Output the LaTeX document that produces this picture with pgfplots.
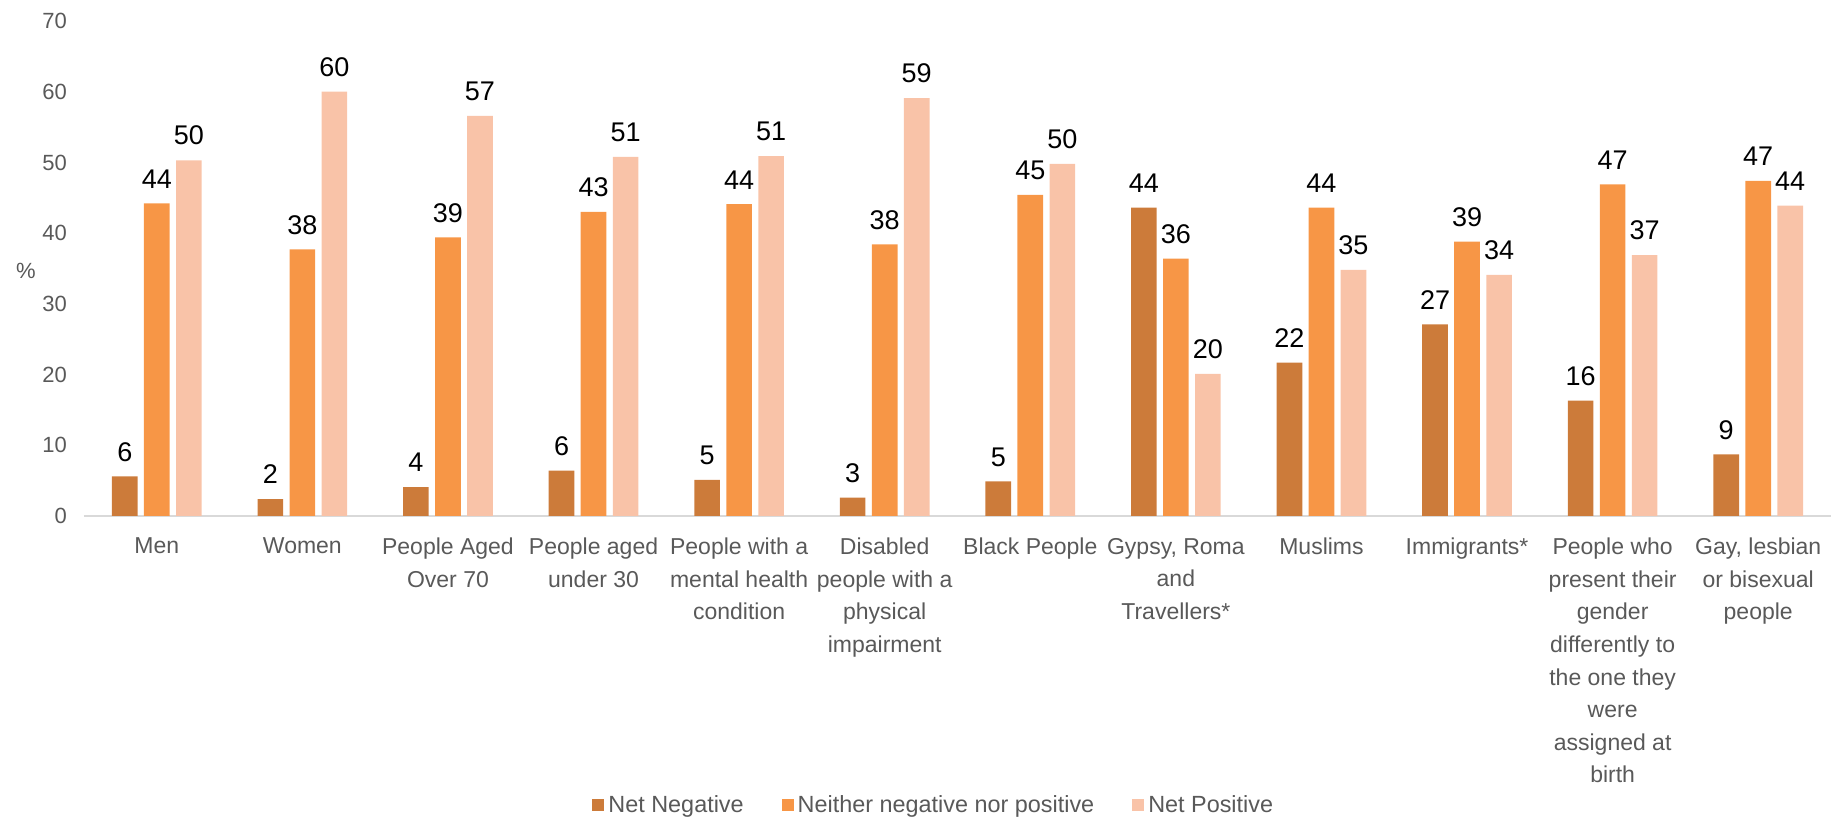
\documentclass[border=0pt]{standalone}
\usepackage{fontspec}
\setmainfont{Liberation Sans}
\usepackage{pgfplots}
\pgfplotsset{compat=1.18}
\definecolor{cNeg}{HTML}{CC7B3A}
\definecolor{cMid}{HTML}{F79646}
\definecolor{cPos}{HTML}{F9C3A8}
\definecolor{txt}{HTML}{595959}
\definecolor{axln}{HTML}{D9D9D9}

\begin{document}
\begin{tikzpicture}
  \useasboundingbox (0,0) rectangle (916pt,409.5pt);
  \begin{axis}[
    at={(42pt,151.5pt)}, anchor=south west,
    scale only axis, width=873.5pt, height=247.5pt,
    ybar, bar width=0.176,
    ymin=0, ymax=70, ytick={0,10,...,70},
    xmin=-0.5, xmax=11.5,
    xtick={0,...,11},
    xticklabels={Men, Women, People Aged\\Over 70, People aged\\under 30,
      People with a\\mental health\\condition,
      Disabled\\people with a\\physical\\impairment,
      Black People, {Gypsy, Roma\\and\\Travellers*}, Muslims, Immigrants*,
      People who\\present their\\gender\\differently to\\the one they\\were\\assigned at\\birth,
      {Gay, lesbian\\or bisexual\\people}},
    xticklabel style={font=\fontsize{11.5}{16.3}\selectfont, text=txt,
                      align=center, anchor=north, yshift=-7.5pt},
    yticklabel style={font=\fontsize{11}{13}\selectfont, text=txt, xshift=-5pt},
    /pgf/number format/assume math mode=true,
    axis x line*=bottom, axis y line*=left,
    x axis line style={draw=axln, line width=1pt},
    y axis line style={draw=none},
    major tick length=0pt,
    nodes near coords,
    every node near coord/.append style={font=\fontsize{13.5}{15}\selectfont,
      text=black, yshift=4pt,
      /pgf/number format/fixed, /pgf/number format/precision=0},
    legend columns=3,
    legend style={at={(axis description cs:0.487,-0.584)}, anchor=center,
      draw=none, font=\fontsize{11.7}{14}\selectfont, text=txt,
      /tikz/every even column/.append style={column sep=17pt}},
    legend image code/.code={\fill[#1] (0pt,-3pt) rectangle (6pt,3pt);},
  ]
    \addplot[fill=cNeg, draw=none, bar shift=-0.22] coordinates
      {(0,5.6) (1,2.4) (2,4.1) (3,6.4) (4,5.1) (5,2.6) (6,4.9) (7,43.6)
       (8,21.7) (9,27.1) (10,16.3) (11,8.7)};
    \addplot[fill=cMid, draw=none, bar shift=0] coordinates
      {(0,44.2) (1,37.7) (2,39.4) (3,43.0) (4,44.1) (5,38.4) (6,45.4) (7,36.4)
       (8,43.6) (9,38.8) (10,46.9) (11,47.4)};
    \addplot[fill=cPos, draw=none, bar shift=0.22] coordinates
      {(0,50.3) (1,60.0) (2,56.6) (3,50.8) (4,50.9) (5,59.1) (6,49.8) (7,20.1)
       (8,34.8) (9,34.1) (10,36.9) (11,43.9)};
    \legend{Net Negative, Neither negative nor positive, Net Positive}
  \end{axis}
  \node[text=txt, font=\fontsize{11}{13}\selectfont] at (13pt,274pt) {\%};
\end{tikzpicture}
\end{document}
